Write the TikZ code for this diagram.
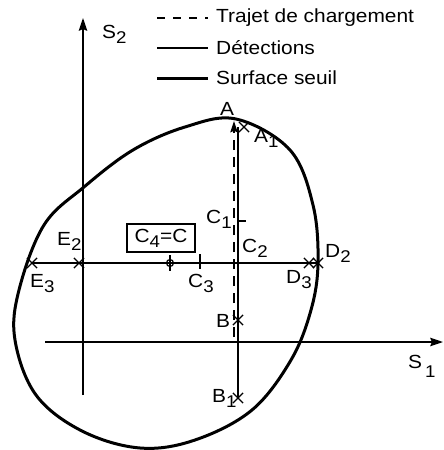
\documentclass[tikz,border=0pt]{standalone}
\usepackage{fontspec}
\setmainfont[FakeStretch=1.1]{Liberation Sans}
\usepackage{tikz}
\usetikzlibrary{arrows.meta, positioning, shapes.misc}
\newcommand{\indice}[2][5pt]{\raisebox{-#1}{\fontsize{17}{17}\selectfont #2}}
\tikzset{
	axe/.style={line width=1.3pt, -{Stealth[length=4.5mm, width=3mm, inset=0.6mm]}},
	detect/.style={line width=1.2pt},
	trajet/.style={line width=1.2pt, dash pattern=on 10pt off 7pt},
	seuil/.style={line width=3pt},
	croix/.style={cross out, draw, line width=1.2pt, minimum size=9pt, inner sep=0pt},
	etiq/.style={inner sep=0pt, anchor=base west, font=\fontsize{19}{23}\selectfont}
}

\begin{document}
\begin{tikzpicture}[x=1pt, y=-1pt]
		\useasboundingbox (0,0) rectangle (444,450);
		% Axes
		\coordinate (s2bas) at (83,395);
		\coordinate (s2haut) at (83,18);
		\coordinate (s1gauche) at (45,342);
		\coordinate (s1droite) at (443,342);
		\draw [axe] (s2bas) -- (s2haut);
		\draw [axe] (s1gauche) -- (s1droite);
		\node (s2) [etiq] at (102,38) {S\indice{2}};
		\node (s1) [etiq] at (408,368) {S\hspace{3pt}\indice[9pt]{1}};
		
		% Legende
		\coordinate (leg1) at (157,18);
		\coordinate (leg2) at (157,48);
		\coordinate (leg3) at (157,78);
		\draw [trajet, dash pattern=on 8pt off 8pt] (leg1) -- ++(51,0) coordinate (leg1b);
		\draw [detect] (leg2) -- ++(51,0) coordinate (leg2b);
		\draw [seuil] (leg3) -- ++(51,0) coordinate (leg3b);
		\node [etiq, anchor=west, right=8pt of leg1b] {Trajet de chargement};
		\node [etiq, anchor=west, right=8pt of leg2b] {Détections};
		\node [etiq, anchor=west, right=8pt of leg3b] {Surface seuil};
		
		% Surface seuil
		\draw [seuil] plot [smooth cycle, tension=0.6] coordinates {(236,119) (290,150) (313,205) (318,263) (311,310) (291,360) (252,410) (195,440) (140,448) (82,431) (36,395) (15,340) (19,290) (44,225) (84,187) (133,150) (185,127)};
		
		% Points de detection
		\node (a1) [croix] at (244,127) {};
		\node (b) [croix] at (238,320) {};
		\node (b1) [croix] at (238,398) {};
		\node (e3) [croix] at (32,263) {};
		\node (e2) [croix] at (79,263) {};
		\node (d3) [croix] at (309,263) {};
		\node (d2) [croix] at (318,263) {};
		\coordinate (haut) at (238,127);
		\coordinate (c1) at (238,221);
		\coordinate (c3) at (200,263);
		\coordinate (c4) at (170,263);
		
		% Detections
		\draw [detect] (haut) -- (b1.center);
		\draw [detect] (e3.center) -- (d2.center);
		\draw [detect] (c1) -- ++(8,0);
		\draw [detect] (c3) ++(0,-9) -- ++(0,15);
		\draw [detect] (c4) circle (3.5);
		\draw [detect] (c4) ++(0,-8) -- ++(0,16);
		
		% Trajet de chargement
		\coordinate (dep) at (234,337);
		\coordinate (arr) at (234,121);
		\draw [trajet, -{Stealth[length=4mm, width=2.6mm, inset=0.6mm]}] (dep) -- (arr);
		
		% Etiquettes
		\node [etiq] at (220,115) {A};
		\node [etiq] at (254,142) {A\indice{1}};
		\node [etiq] at (206,223) {C\indice{1}};
		\node [etiq] at (242,252) {C\indice{2}};
		\node [etiq] at (188,287) {C\indice{3}};
		\node [etiq] at (286,283) {D\indice{3}};
		\node [etiq] at (325,257) {D\indice{2}};
		\node [etiq] at (57,245) {E\indice{2}};
		\node [etiq] at (30,287) {E\indice{3}};
		\node [etiq] at (216,327) {B};
		\node [etiq] at (212,402) {B\indice{1}};
		\node (boite) [etiq, anchor=center, draw, line width=1.2pt, minimum width=68pt, minimum height=28pt] at (161,238) {C\indice{4}=C};
	\end{tikzpicture}
\end{document}
